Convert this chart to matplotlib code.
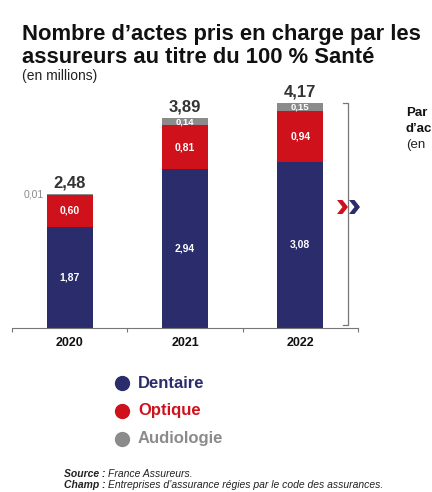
import matplotlib
matplotlib.use('Agg')
import matplotlib.pyplot as plt
from matplotlib.lines import Line2D
from matplotlib.patches import Polygon

plt.rcParams['font.family'] = ['Liberation Sans', 'DejaVu Sans']

years = ['2020', '2021', '2022']
dentaire = [1.87, 2.94, 3.08]
optique = [0.60, 0.81, 0.94]
audiologie = [0.01, 0.14, 0.15]
totals = ['2,48', '3,89', '4,17']
dent_labels = ['1,87', '2,94', '3,08']
opt_labels = ['0,60', '0,81', '0,94']
audio_labels = ['0,01', '0,14', '0,15']
legend_names = ['Dentaire', 'Optique', 'Audiologie']

NAVY = '#2a2c6c'
RED = '#cf111c'
GREY = '#8b8b8b'
DARK = '#333333'

W, H = 432, 492


def fx(x):
    return x / W


def fy(y):
    return 1 - y / H


fig = plt.figure(figsize=(W / 100, H / 100), dpi=100)
ax = fig.add_axes([fx(12), fy(328), fx(358) - fx(12), (328 - 79.6) / H])

x = range(len(years))
ax.bar(x, dentaire, width=0.4, color=NAVY)
ax.bar(x, optique, width=0.4, bottom=dentaire, color=RED)
bottoms = [d + o for d, o in zip(dentaire, optique)]
ax.bar(x, audiologie, width=0.4, bottom=bottoms, color=GREY)

for i in x:
    ax.text(i, dentaire[i] / 2, dent_labels[i], ha='center', va='center',
            color='white', fontsize=7.5, fontweight='bold')
    ax.text(i, dentaire[i] + optique[i] / 2, opt_labels[i], ha='center',
            va='center', color='white', fontsize=7.5, fontweight='bold')
    top = bottoms[i] + audiologie[i]
    if audiologie[i] >= 0.1:
        ax.text(i, bottoms[i] + audiologie[i] / 2, audio_labels[i],
                ha='center', va='center', color='white', fontsize=6.8,
                fontweight='bold')
    else:
        ax.text(i - 0.22, top, audio_labels[i], ha='right', va='center',
                color=GREY, fontsize=7.5)
    ax.text(i, top + 0.07, totals[i], ha='center', va='bottom', color=DARK,
            fontsize=12, fontweight='bold')

ax.set_xlim(-0.5, 2.5)
ax.set_ylim(0, 4.6)
for s in ['top', 'right', 'left']:
    ax.spines[s].set_visible(False)
ax.spines['bottom'].set_color('#777777')
ax.spines['bottom'].set_linewidth(0.8)
ax.set_yticks([])
ax.set_xticks([-0.5, 0.5, 1.5, 2.5])
ax.set_xticklabels([])
ax.tick_params(axis='x', direction='out', length=3, color='#777777', width=0.8)
for i, yr in enumerate(years):
    ax.text(i, -0.17, yr, ha='center', va='top', fontsize=9,
            fontweight='bold', color='#111111')

# bracket
fig.add_artist(Line2D([fx(343), fx(348), fx(348), fx(343)],
                      [fy(103), fy(103), fy(325), fy(325)],
                      color='#777777', lw=0.9))
# chevrons
for x0, col in [(337, RED), (349, NAVY)]:
    pts = [(x0, 200), (x0 + 5.5, 200), (x0 + 11, 207), (x0 + 5.5, 214),
           (x0, 214), (x0 + 5.5, 207)]
    fig.add_artist(Polygon([(fx(a), fy(b)) for a, b in pts], closed=True,
                           facecolor=col, edgecolor='none'))

# title
fig.text(fx(22), fy(40), 'Nombre d’actes pris en charge par les',
         fontsize=15.8, fontweight='bold', color='#111111', va='baseline')
fig.text(fx(22), fy(63), 'assureurs au titre du 100 % Santé',
         fontsize=15.8, fontweight='bold', color='#111111', va='baseline')
fig.text(fx(22), fy(80), '(en millions)', fontsize=10, color='#222222',
         va='baseline')

# side text, cut by the right edge as in the source
fig.text(fx(406), fy(116), 'Par', fontsize=9.5, fontweight='bold',
         color='#111111', va='baseline')
fig.text(fx(406), fy(132), 'd’ac', fontsize=9.5, fontweight='bold',
         color='#111111', va='baseline')
fig.text(fx(406), fy(148), '(en', fontsize=9.5, color='#222222',
         va='baseline')

# legend
for yy, name, col in zip([383, 411, 439], legend_names, [NAVY, RED, GREY]):
    fig.add_artist(Line2D([fx(122)], [fy(yy)], marker='o', markersize=10,
                          color=col, linestyle='none'))
    fig.text(fx(138), fy(yy), name, fontsize=12, fontweight='bold',
             color=col, va='center')

fig.text(fx(64), fy(477), 'Source :', fontsize=7.5, fontweight='bold',
         style='italic', color='#222222', va='baseline')
fig.text(fx(108), fy(477), 'France Assureurs.', fontsize=7.5, style='italic',
         color='#222222', va='baseline')
fig.text(fx(64), fy(488), 'Champ :', fontsize=7.5, fontweight='bold',
         style='italic', color='#222222', va='baseline')
fig.text(fx(108), fy(488), 'Entreprises d’assurance régies par le code des assurances.',
         fontsize=7.5, style='italic', color='#222222', va='baseline')

fig.savefig('out.png', dpi=100)
